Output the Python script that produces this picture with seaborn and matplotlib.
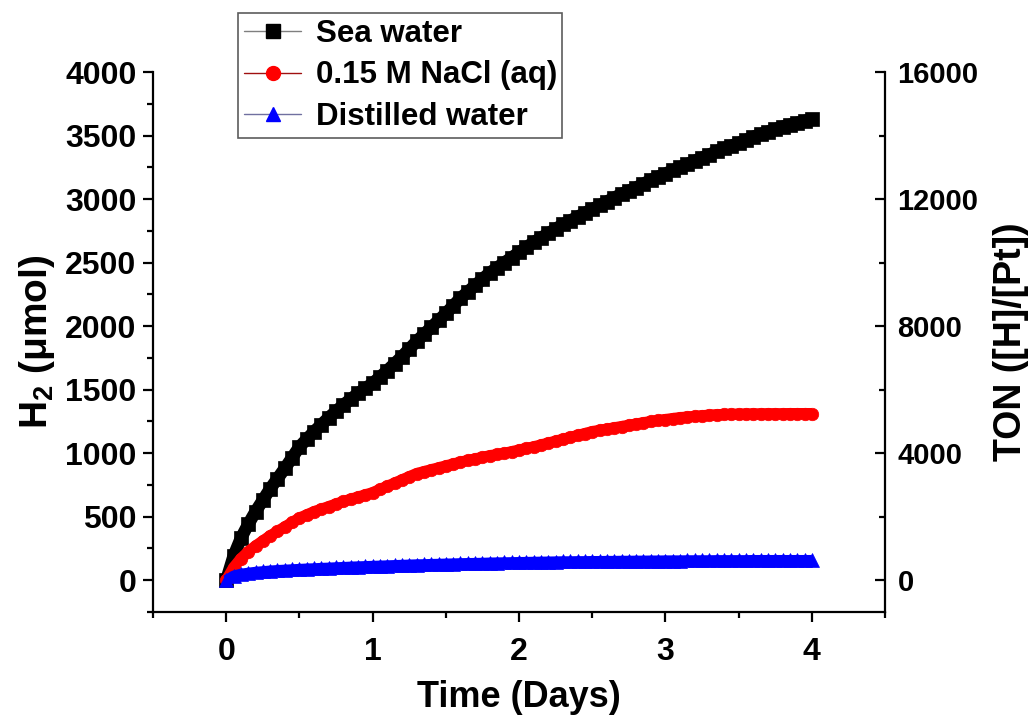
import numpy as np
import pandas as pd
import matplotlib
matplotlib.use("Agg")
import matplotlib.pyplot as plt
from matplotlib.ticker import MultipleLocator
from matplotlib.lines import Line2D
import seaborn as sns

# ---------------- data ----------------
time_days = [0.00, 0.05, 0.10, 0.15, 0.20, 0.25, 0.30, 0.35, 0.40, 0.45,
             0.50, 0.55, 0.60, 0.65, 0.70, 0.75, 0.80, 0.85, 0.90, 0.95,
             1.00, 1.05, 1.10, 1.15, 1.20, 1.25, 1.30, 1.35, 1.40, 1.45,
             1.50, 1.55, 1.60, 1.65, 1.70, 1.75, 1.80, 1.85, 1.90, 1.95,
             2.00, 2.05, 2.10, 2.15, 2.20, 2.25, 2.30, 2.35, 2.40, 2.45,
             2.50, 2.55, 2.60, 2.65, 2.70, 2.75, 2.80, 2.85, 2.90, 2.95,
             3.00, 3.05, 3.10, 3.15, 3.20, 3.25, 3.30, 3.35, 3.40, 3.45,
             3.50, 3.55, 3.60, 3.65, 3.70, 3.75, 3.80, 3.85, 3.90, 3.95,
             4.00]

sea_water = [0, 190, 330, 440, 540, 630, 720, 800, 880, 965,
             1050, 1110, 1170, 1225, 1280, 1330, 1380, 1425, 1470, 1510,
             1550, 1600, 1650, 1705, 1760, 1820, 1880, 1935, 1990, 2045,
             2100, 2160, 2220, 2270, 2320, 2370, 2420, 2460, 2500, 2540,
             2580, 2620, 2660, 2695, 2730, 2765, 2800, 2830, 2860, 2890,
             2920, 2950, 2980, 3010, 3040, 3065, 3090, 3120, 3150, 3175,
             3200, 3225, 3250, 3275, 3300, 3325, 3350, 3375, 3400, 3420,
             3440, 3465, 3490, 3510, 3530, 3550, 3570, 3585, 3600, 3615,
             3630]

nacl = [0, 100, 170, 225, 270, 310, 350, 385, 420, 455,
        490, 515, 540, 560, 580, 600, 620, 638, 655, 672,
        690, 715, 740, 765, 790, 815, 840, 855, 870, 885,
        900, 915, 930, 943, 955, 968, 980, 990, 1000, 1012,
        1025, 1038, 1050, 1065, 1080, 1095, 1110, 1125, 1140, 1155,
        1170, 1180, 1190, 1200, 1210, 1220, 1230, 1240, 1250, 1258,
        1265, 1273, 1280, 1285, 1290, 1295, 1300, 1303, 1305, 1307,
        1308, 1309, 1310, 1310, 1311, 1311, 1311, 1312, 1312, 1312,
        1312]

distilled = [0, 35, 50, 58, 65, 70, 75, 79, 82, 85,
             88, 91, 93, 96, 98, 101, 103, 106, 108, 110,
             112, 114, 116, 118, 120, 122, 124, 125, 127, 128,
             130, 131, 133, 134, 135, 136, 138, 139, 140, 141,
             142, 143, 144, 145, 146, 147, 148, 148, 149, 149,
             150, 150, 151, 151, 152, 152, 153, 153, 154, 154,
             155, 155, 155, 156, 156, 156, 156, 157, 157, 157,
             157, 157, 158, 158, 158, 158, 158, 158, 158, 158,
             158]

series_labels = ["Sea water", "0.15 M NaCl (aq)", "Distilled water"]
x_ticks = [0, 1, 2, 3, 4]
left_ticks = [0, 500, 1000, 1500, 2000, 2500, 3000, 3500, 4000]
right_ticks = [0, 4000, 8000, 12000, 16000]

# ---------------- styling ----------------
sns.set_style("ticks")
plt.rcParams['font.family'] = ['Liberation Sans', 'DejaVu Sans']
plt.rcParams['font.weight'] = 'bold'
plt.rcParams['mathtext.fontset'] = 'custom'
plt.rcParams['mathtext.rm'] = 'Liberation Sans:bold'
plt.rcParams['mathtext.bf'] = 'Liberation Sans:bold'
plt.rcParams['mathtext.it'] = 'Liberation Sans:bold'
for k in ['text.color', 'axes.labelcolor', 'xtick.color', 'ytick.color',
          'axes.edgecolor']:
    plt.rcParams[k] = 'black'

fig = plt.figure(figsize=(10.32, 7.18), dpi=100)
ax = fig.add_axes([0.1483, 0.1476, 0.8576 - 0.1483, 0.8997 - 0.1476])

df = pd.DataFrame({"t": time_days, "sea": sea_water, "nacl": nacl, "dist": distilled})

# (column, label, marker, marker colour, legend line colour, marker size, band width)
styles = [
    ("sea", series_labels[0], "s", "#000000", "#7f7f7f", 9.5, 9.0),
    ("nacl", series_labels[1], "o", "#ff0000", "#a01010", 9.0, 8.0),
    ("dist", series_labels[2], "^", "#0000ff", "#7070a0", 10.0, 7.5),
]
for col, lab, mk, mc, lc, ms, bw in styles:
    sns.lineplot(data=df, x="t", y=col, ax=ax, color=mc, linewidth=bw,
                 marker=mk, markersize=ms, markerfacecolor=mc,
                 markeredgecolor=mc, markeredgewidth=0.5, legend=False,
                 solid_capstyle='butt', solid_joinstyle='round')

ax.set_xlim(-0.5, 4.5)
ax.set_ylim(-250, 4000)
ax.set_xticks(x_ticks)
ax.set_yticks(left_ticks)
ax.xaxis.set_minor_locator(MultipleLocator(0.5))
ax.yaxis.set_minor_locator(MultipleLocator(250))
ax.tick_params(axis='both', which='major', direction='out', length=7, width=1.6,
               labelsize=23, pad=5)
ax.tick_params(axis='x', which='major', pad=11)
ax.tick_params(axis='both', which='minor', direction='out', length=4.5, width=1.6)
ax.spines['top'].set_visible(False)
ax.spines['right'].set_visible(False)
for s in ['left', 'bottom']:
    ax.spines[s].set_linewidth(1.6)

ax.set_xlabel("Time (Days)", fontsize=26, fontweight='bold', labelpad=9)
ax.set_ylabel(r"H$_{2}$ (μmol)", fontsize=28, fontweight='bold', labelpad=6)

ax2 = ax.twinx()
ax2.set_ylim(-1000, 16000)
ax2.set_yticks(right_ticks)
ax2.yaxis.set_minor_locator(MultipleLocator(2000))
ax2.tick_params(axis='y', which='major', direction='in', length=7, width=1.6,
                labelsize=21, pad=9)
ax2.tick_params(axis='y', which='minor', direction='in', length=4.5, width=1.6)
ax2.spines['top'].set_visible(False)
ax2.spines['left'].set_visible(False)
ax2.spines['bottom'].set_visible(False)
ax2.spines['right'].set_linewidth(1.6)
ax2.set_ylabel("TON ([H]/[Pt])", fontsize=27, fontweight='bold', labelpad=10)

for t in ax.get_xticklabels() + ax.get_yticklabels() + ax2.get_yticklabels():
    t.set_fontweight('bold')

handles = []
for col, lab, mk, mc, lc, ms, bw in styles:
    handles.append(Line2D([0], [0], color=lc, linewidth=1, marker=mk,
                          markersize=10, markerfacecolor=mc, markeredgecolor=mc))
leg = fig.legend(handles, series_labels, loc='upper left',
                 bbox_to_anchor=(238 / 1032, 1 - 13 / 718),
                 frameon=True, fancybox=False,
                 prop={'weight': 'bold', 'size': 22.5},
                 handlelength=1.85, handletextpad=0.45, borderpad=0.18,
                 labelspacing=0.38, borderaxespad=0)
leg.get_frame().set_edgecolor('#333333')
leg.get_frame().set_linewidth(1.2)

fig.savefig("out.png", dpi=100)
